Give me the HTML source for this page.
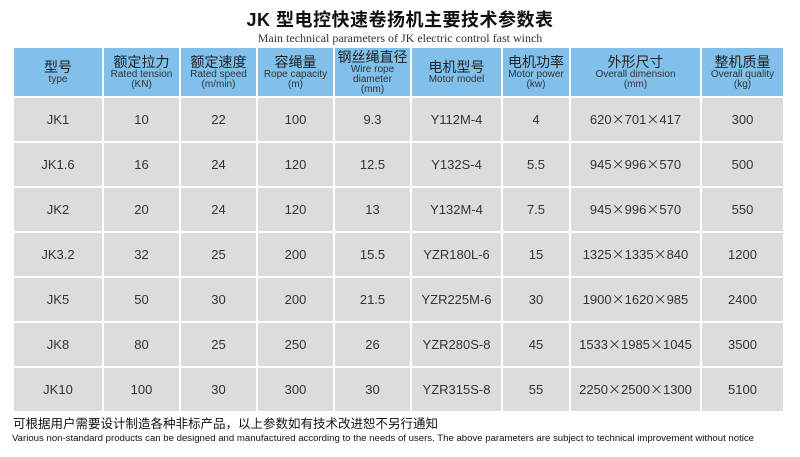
<!DOCTYPE html>
<html><head><meta charset="utf-8"><style>
body{margin:0;width:800px;height:457px;background:#fff;position:relative;overflow:hidden;font-family:"Liberation Sans","Noto Sans CJK SC",sans-serif;color:#333}
.t{position:absolute;left:0;width:800px;text-align:center}
.c{position:absolute;display:flex;flex-direction:column;align-items:center;justify-content:center;text-align:center;box-sizing:border-box}
.h{background:#80c0ea;color:#222}
.h b{font-weight:normal;font-size:14px;line-height:16px}
.h i{font-style:normal;font-size:10px;line-height:10px;color:#333}
.d{background:#dcdcdc;font-size:13px;color:#333}
.d span{line-height:16px}
.d .x{font-family:"Noto Sans CJK SC",sans-serif;line-height:0}
</style></head><body>
<div class="t" style="top:6px;font-size:18px;font-weight:bold;color:#111;letter-spacing:0.5px">JK 型电控快速卷扬机主要技术参数表</div>
<div class="t" style="top:31px;font-size:12px;font-family:'Liberation Serif',serif;color:#333">Main technical parameters of JK electric control fast winch</div>
<div id="tb"></div>
<div style="position:absolute;left:13px;top:415px;font-size:12.5px;line-height:18px;color:#111">可根据用户需要设计制造各种非标产品，以上参数如有技术改进恕不另行通知</div>
<div style="position:absolute;left:12px;top:433px;font-size:9.6px;line-height:12px;color:#111;white-space:nowrap">Various non-standard products can be designed and manufactured according to the needs of users. The above parameters are subject to technical improvement without notice</div>
<script>
var xs=[13,103,180,257,334,411,502,570,701,784];
var hd=[["型号","type"],["额定拉力","Rated tension<br>(KN)"],["额定速度","Rated speed<br>(m/min)"],["容绳量","Rope capacity<br>(m)"],["钢丝绳直径","Wire rope<br>diameter<br>(mm)"],["电机型号","Motor model"],["电机功率","Motor power<br>(kw)"],["外形尺寸","Overall dimension<br>(mm)"],["整机质量","Overall quality<br>(kg)"]];
var rows=[["JK1","10","22","100","9.3","Y112M-4","4","620×701×417","300"],
["JK1.6","16","24","120","12.5","Y132S-4","5.5","945×996×570","500"],
["JK2","20","24","120","13","Y132M-4","7.5","945×996×570","550"],
["JK3.2","32","25","200","15.5","YZR180L-6","15","1325×1335×840","1200"],
["JK5","50","30","200","21.5","YZR225M-6","30","1900×1620×985","2400"],
["JK8","80","25","250","26","YZR280S-8","45","1533×1985×1045","3500"],
["JK10","100","30","300","30","YZR315S-8","55","2250×2500×1300","5100"]];
var s="";
for(var j=0;j<9;j++){var l=xs[j]+1,w=xs[j+1]-xs[j]-2;
s+='<div class="c h" style="left:'+l+'px;top:48px;width:'+w+'px;height:48px"><b>'+hd[j][0]+'</b><i>'+hd[j][1]+'</i></div>';
for(var r=0;r<7;r++){var v=rows[r][j].replace(/×/g,'<span class="x">×</span>');s+='<div class="c d" style="left:'+l+'px;top:'+(98+r*45)+'px;width:'+w+'px;height:43px"><span>'+v+'</span></div>';}}
document.getElementById("tb").innerHTML=s;
</script>
</body></html>
